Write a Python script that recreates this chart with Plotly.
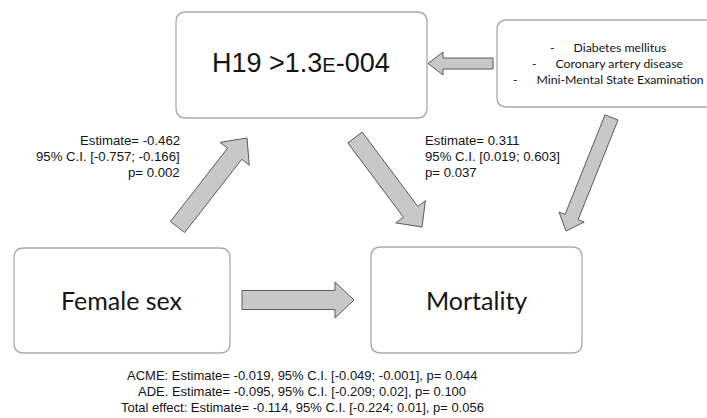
import math
import plotly.graph_objects as go

# ---- model content -------------------------------------------------------
exposure_label = "Female sex"
mediator_label = "H19 >1.3E-004"
outcome_label = "Mortality"
covariates = ["Diabetes mellitus", "Coronary artery disease", "Mini-Mental State Examination"]

# path a (exposure -> mediator) and path b (mediator -> outcome)
path_estimate = [-0.462, 0.311]
path_ci_low = [-0.757, 0.019]
path_ci_high = [-0.166, 0.603]
path_p = [0.002, 0.037]

# mediation effects
effect_names = ["ACME:", "ADE.", "Total effect:"]
effect_estimate = [-0.019, -0.095, -0.114]
effect_ci_low = [-0.049, -0.209, -0.224]
effect_ci_high = [-0.001, 0.02, 0.01]
effect_p = [0.044, 0.100, 0.056]

# ---- styling ---------------------------------------------------------------
W, H = 707, 418
BOX_LINE = "#a9a9a9"
ARROW_FILL = "#c8c8c8"
ARROW_LINE = "#5a5a5a"
ARIAL = "Liberation Sans, Arial, sans-serif"
CALIBRI = "Lato, Noto Sans, sans-serif"

fig = go.Figure()


def rounded_box(x0, y0, x1, y1, r=10):
    p = (f"M {x0 + r},{y0} L {x1 - r},{y0} Q {x1},{y0} {x1},{y0 + r} "
         f"L {x1},{y1 - r} Q {x1},{y1} {x1 - r},{y1} "
         f"L {x0 + r},{y1} Q {x0},{y1} {x0},{y1 - r} "
         f"L {x0},{y0 + r} Q {x0},{y0} {x0 + r},{y0} Z")
    fig.add_shape(type="path", path=p, xref="x", yref="y",
                  line=dict(color=BOX_LINE, width=1.3), fillcolor="white", layer="below")


def block_arrow(tail, tip, shaft_w, head_w, head_len):
    tx, ty = tail
    hx, hy = tip
    L = math.hypot(hx - tx, hy - ty)
    ux, uy = (hx - tx) / L, (hy - ty) / L
    nx, ny = -uy, ux
    bx, by = hx - ux * head_len, hy - uy * head_len
    s, h = shaft_w / 2, head_w / 2
    pts = [
        (tx + nx * s, ty + ny * s),
        (bx + nx * s, by + ny * s),
        (bx + nx * h, by + ny * h),
        (hx, hy),
        (bx - nx * h, by - ny * h),
        (bx - nx * s, by - ny * s),
        (tx - nx * s, ty - ny * s),
    ]
    p = "M " + " L ".join(f"{x:.2f},{y:.2f}" for x, y in pts) + " Z"
    fig.add_shape(type="path", path=p, xref="x", yref="y",
                  line=dict(color=ARROW_LINE, width=1), fillcolor=ARROW_FILL, layer="below")


def label(x, y, text, size, family=ARIAL, anchor="center", color="#141414"):
    fig.add_annotation(x=x, y=y, xref="x", yref="y", text=text, showarrow=False,
                       xanchor=anchor, yanchor="middle", align=anchor if anchor != "center" else "center",
                       font=dict(family=family, size=size, color=color))


# boxes
rounded_box(176, 12, 427, 118)          # mediator
rounded_box(497, 20, 722, 107)          # covariates
rounded_box(14, 248, 230, 353)          # exposure
rounded_box(371, 247, 582, 353)         # outcome

# arrows
block_arrow((242, 300), (354, 300), 19, 36, 19)           # direct effect
block_arrow((177.5, 227), (247, 138), 18, 37, 20)         # path a
block_arrow((355, 137.5), (422, 227), 18, 37, 19)         # path b
block_arrow((611.5, 117.5), (566, 231), 14, 27, 15)       # covariates -> outcome
block_arrow((493, 63.5), (428, 63.5), 11, 23, 15)         # covariates -> mediator

# node texts
med_html = mediator_label.replace("E-", "<span style='font-size:20px'>E</span>-")
label(301, 63, med_html, 27)
label(122, 300, exposure_label, 25, CALIBRI)
label(476, 300, outcome_label, 25, CALIBRI)

nb = "\u00a0"
for i, c in enumerate(covariates):
    label(608, 47 + 16 * i, "-" + nb * 6 + c, 12.3, CALIBRI)


# path annotations
def path_lines(i):
    return [
        f"Estimate= {path_estimate[i]:.3f}",
        f"95% C.I. [{path_ci_low[i]}; {path_ci_high[i]}]",
        f"p= {path_p[i]:.3f}",
    ]


for j, line in enumerate(path_lines(0)):
    label(182, 140 + 16 * j, line, 13.2, anchor="right")
for j, line in enumerate(path_lines(1)):
    label(423, 140 + 16 * j, line, 13.2, anchor="left")

# effect summary
for k, name in enumerate(effect_names):
    txt = (f"{name} Estimate= {effect_estimate[k]:.3f}, 95% C.I. "
           f"[{effect_ci_low[k]}; {effect_ci_high[k]}], p= {effect_p[k]:.3f}")
    label(302, 375 + 16 * k, txt, 13)

fig.update_layout(
    width=W, height=H,
    margin=dict(l=0, r=0, t=0, b=0),
    paper_bgcolor="white", plot_bgcolor="white",
    xaxis=dict(range=[0, W], visible=False, fixedrange=True),
    yaxis=dict(range=[H, 0], visible=False, fixedrange=True),
    showlegend=False,
)

fig.write_html("out.html")
